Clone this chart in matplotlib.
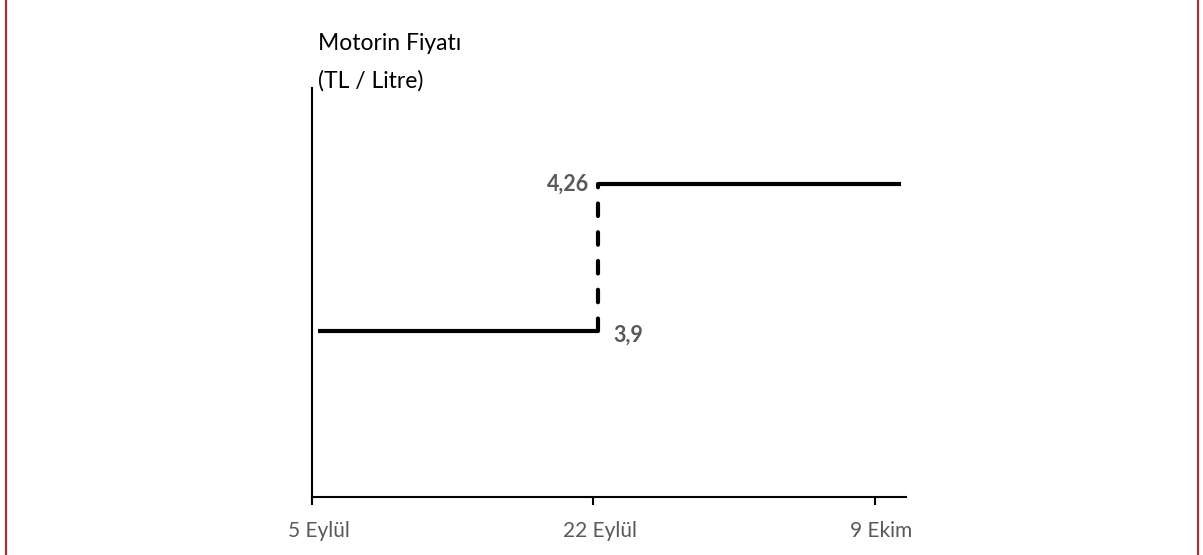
import matplotlib.pyplot as plt
import matplotlib.transforms as mtransforms
from matplotlib.lines import Line2D

plt.rcParams['font.family'] = ['Lato', 'DejaVu Sans']

# gün (5 Eylül = 0)
tick_days = [0, 17, 34]
tick_labels = ['5 Eylül', '22 Eylül', '9 Ekim']

# fiyat basamakları
low_price = 3.9
high_price = 4.26
low_days = [0.35, 17.3]
high_days = [17.3, 35.6]
step_day = 17.3

W, H = 1203, 555
fig = plt.figure(figsize=(W / 100, H / 100), dpi=100)
ax = fig.add_axes([312 / W, (H - 497) / H, (906 - 312) / W, (497 - 88) / H])

ax.plot(low_days, [low_price, low_price], color='black', lw=3, solid_capstyle='butt')
ax.plot(high_days, [high_price, high_price], color='black', lw=3, solid_capstyle='butt')
ax.plot([step_day, step_day], [low_price, high_price], color='black', lw=3,
        dashes=(3.0, 3.9), dash_capstyle='round')

ax.text(step_day - 0.55, high_price, '4,26', ha='right', va='center',
        fontsize=15.5, fontweight='bold', color='#595959')
ax.text(step_day + 0.9, low_price - 0.01, '3,9', ha='left', va='center',
        fontsize=15.5, fontweight='bold', color='#595959')

ax.set_xlim(0, 35.9)
ax.set_ylim(3.495, 4.495)
ax.set_xticks(tick_days)
ax.set_xticklabels(tick_labels, fontsize=15, color='#595959')
ax.set_yticks([])
ax.tick_params(axis='x', length=6, width=1.5, color='black', pad=11)
shift = mtransforms.ScaledTranslation(7 / 100, 0, fig.dpi_scale_trans)
for lbl in ax.get_xticklabels():
    lbl.set_transform(lbl.get_transform() + shift)
for s in ['top', 'right']:
    ax.spines[s].set_visible(False)
for s in ['left', 'bottom']:
    ax.spines[s].set_linewidth(1.5)

fig.text(318 / W, 1 - 44 / H, 'Motorin Fiyatı', ha='left', va='center', fontsize=16.5, color='black')
fig.text(318 / W, 1 - 81 / H, '(TL / Litre)', ha='left', va='center', fontsize=16.5, color='black')

# çerçeve
for xp in [6, 1198]:
    fig.add_artist(Line2D([xp / W, xp / W], [0, 1], color='#9b3535', lw=1.6,
                          transform=fig.transFigure))

fig.savefig('out.png', dpi=100)
